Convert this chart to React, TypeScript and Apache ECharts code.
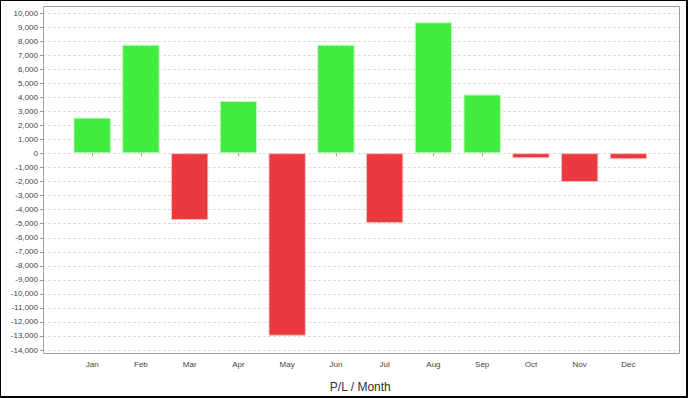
import React, { useEffect, useRef } from "react";
import * as echarts from "echarts";

const months = ["Jan", "Feb", "Mar", "Apr", "May", "Jun", "Jul", "Aug", "Sep", "Oct", "Nov", "Dec"];
const profitLoss = [2540, 7750, -4780, 3730, -13050, 7750, -5000, 9360, 4190, -360, -2060, -430];
const yMin = -14000;
const yMax = 10000;
const yStep = 1000;
const axisTitle = "P/L / Month";

const GREEN = "#3fec3f";
const RED = "#eb3a3f";
const FONT = "'Liberation Sans', Arial, sans-serif";

export default function App() {
  const ref = useRef<HTMLDivElement>(null);
  useEffect(() => {
    document.body.style.margin = "0";
    if (!ref.current) return;
    const chart = echarts.init(ref.current, undefined, { renderer: "svg" });
    const top = 13.3;
    const height = 336.7;
    chart.setOption({
      animation: false,
      backgroundColor: "#ffffff",
      textStyle: { fontFamily: FONT },
      grid: [
        { left: 43, top, width: 637, height },
        { left: 67.8, top, width: 585, height },
      ],
      xAxis: [
        { type: "value", gridIndex: 0, show: false, min: 0, max: 1 },
        {
          type: "category",
          gridIndex: 1,
          data: months,
          offset: 4,
          axisLine: { show: false },
          axisTick: { show: true, alignWithLabel: true, length: 3, lineStyle: { color: "#999" } },
          axisLabel: { fontSize: 8, color: "#444", margin: 7, fontFamily: FONT },
          name: axisTitle,
          nameLocation: "middle",
          nameGap: 28,
          nameTextStyle: { fontSize: 12, color: "#333", fontFamily: FONT },
        },
      ],
      yAxis: [
        {
          type: "value",
          gridIndex: 0,
          min: yMin,
          max: yMax,
          interval: yStep,
          axisLine: { show: false },
          axisTick: { show: true, length: 3, lineStyle: { color: "#999" } },
          axisLabel: {
            fontSize: 8,
            color: "#444",
            margin: 5,
            fontFamily: FONT,
            formatter: (v: number) => v.toLocaleString("en-US"),
          },
          splitLine: { show: true, lineStyle: { color: "#dedede", type: [3, 2], width: 1 } },
        },
        { type: "value", gridIndex: 1, min: yMin, max: yMax, interval: yStep, show: false, splitLine: { show: false } },
      ],
      series: [
        {
          type: "bar",
          xAxisIndex: 1,
          yAxisIndex: 1,
          barCategoryGap: "23.5%",
          data: profitLoss.map((v) => ({
            value: v,
            itemStyle: {
              color: v >= 0 ? GREEN : RED,
              borderColor: v >= 0 ? "rgba(190,250,190,0.9)" : "rgba(250,190,190,0.9)",
              borderWidth: 1,
            },
          })),
        },
      ],
      graphic: [
        {
          type: "rect",
          silent: true,
          z: 100,
          shape: { x: 43.5, y: 6.5, width: 636, height: 347 },
          style: { fill: "none", stroke: "#a0a0a0", lineWidth: 1 },
        },
        { type: "line", z: 100, shape: { x1: 0, y1: 0.5, x2: 688, y2: 0.5 }, style: { stroke: "#000", lineWidth: 1 } },
        { type: "line", z: 100, shape: { x1: 0.5, y1: 0, x2: 0.5, y2: 398 }, style: { stroke: "#000", lineWidth: 1 } },
        { type: "line", z: 100, shape: { x1: 687, y1: 0, x2: 687, y2: 398 }, style: { stroke: "#000", lineWidth: 2 } },
        { type: "line", z: 100, shape: { x1: 0, y1: 397, x2: 688, y2: 397 }, style: { stroke: "#000", lineWidth: 2 } },
      ],
    });
    return () => chart.dispose();
  }, []);
  return <div ref={ref} style={{ width: 688, height: 398 }} />;
}
